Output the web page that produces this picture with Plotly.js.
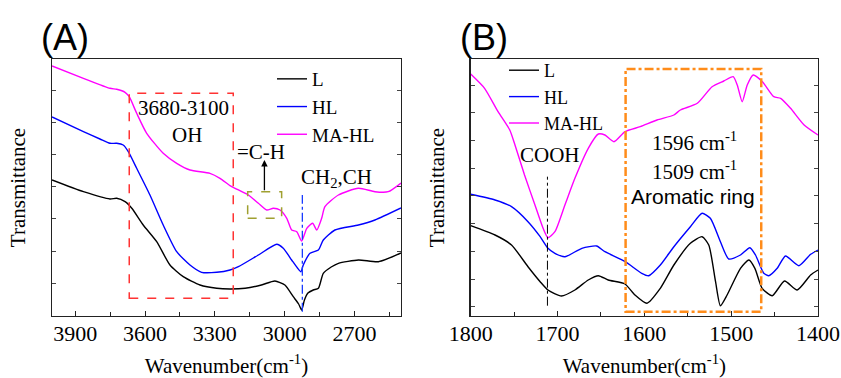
<!DOCTYPE html>
<html>
<head>
<meta charset="utf-8">
<script src="https://cdn.plot.ly/plotly-3.0.1.min.js"></script>
<style>html,body{margin:0;padding:0;background:#fff;}#chart{width:841px;height:378px;}</style>
</head>
<body>
<div id="chart"></div>
<script>
// ---------- Panel A (4000-2500 cm-1) ----------
const aWnL = [4000,3865,3751,3722,3686,3657,3608,3550,3493,3436,3364,3292,3235,3170,3100,3042,2999,2963,2940,2927,2915,2900,2877,2855,2834,2800,2769,2683,2597,2500];
const aL   = [136,124.3,117,117.7,114.3,107.7,91,74.3,51,39.3,31,27.7,27,27.7,31,35,31,19.3,12,6,16,23,26,27.7,42.7,49,52.7,56,54.3,63];

const aWnHL = [4000,3865,3794,3751,3722,3694,3672,3636,3579,3522,3464,3407,3357,3292,3235,3199,3113,3034,3006,2970,2945,2930,2920,2891,2855,2834,2784,2683,2612,2500];
const aHL   = [199,184.3,177,172.7,172.7,171,164.3,147.7,121,91,64.3,51,43.7,43.7,46,49.3,61,71.7,67.7,56,48,44.3,51,62.7,66,76,86,91,96,108];

const aWnMA = [4000,3865,3751,3722,3686,3668,3636,3593,3522,3464,3407,3321,3278,3235,3213,3156,3113,3077,3049,3020,2991,2970,2948,2927,2905,2880,2862,2841,2827,2769,2683,2612,2555,2500];
const aMA   = [250,237.7,227.7,226.7,223.7,219.3,202.7,182.7,162.7,152.7,146,142.7,137.7,130.3,127.7,121,112.7,106,107.7,106,97.7,86,84.3,75,87.7,92.7,86,97.7,109.3,121,127.7,124.3,124.3,133];

// ---------- Panel B (1800-1400 cm-1) ----------
const bWnL = [1800,1772,1753,1734,1720,1711,1695.5,1680,1664.6,1653,1641.6,1622.3,1610.8,1597,1581.6,1566,1547,1533.5,1525.8,1518,1512.4,1504.7,1489.3,1479.6,1472.7,1464.3,1452.7,1438.5,1424,1408.5,1400];
const bL   = [90.3,81,71,49.3,34.3,26,20,26,36,40.3,36,32,21,12.7,27.7,51,72.7,79.3,71,34.3,10.3,21,47.7,56,47.7,27.7,20.3,35,26,41,46];

const bWnHL = [1800,1772,1753,1734,1720,1711,1703,1691.5,1672,1655,1645.4,1622,1603,1595,1581.6,1566,1547,1533.5,1524,1512.4,1502.8,1489.3,1478.5,1472,1462.4,1456.6,1447,1437.4,1422,1408.5,1400];
const bHL   = [121.7,116,109.3,94.3,79.3,67.7,62.7,59.3,67.7,70,64.3,54.3,42.7,40.3,51,69.3,89.3,102.7,97.7,74.3,57,61,68.3,61,42.7,40.3,47.7,60,50.3,61.7,66];

const bWnMA = [1800,1784,1768.5,1755,1749,1738,1726,1716.6,1711,1703,1691.5,1680,1664.6,1653,1645.4,1635,1622.3,1604.7,1585.4,1566,1558.5,1539,1522,1508.5,1497.7,1493,1487.3,1481.5,1474.6,1464,1450.9,1443,1431.6,1416,1400];
const bMA   = [242,227.7,204.3,186,171,141,111,87.7,78.3,84.3,111,137.7,167.7,182,181,174.3,184.3,189.3,196,201,206,212.7,229.3,235,239.3,231,214.3,231,241,234.3,219.3,217.7,207.7,191,181];

const seriesNames = ['L','HL','MA-HL'];
const seriesColors = ['#000000','#0000ff','#ff00ff'];

const SERIF = 'Liberation Serif';
const SANS = 'Liberation Sans';
const font = (fam, size) => ({family: fam, size: size, color: '#000'});

function tr(x, y, i, xa, ya, lg) {
  return {x: x, y: y, type: 'scatter', mode: 'lines', name: seriesNames[i],
    line: {color: seriesColors[i], width: 1.4, shape: 'spline', smoothing: 0.6},
    xaxis: xa, yaxis: ya, legend: lg};
}

const data = [
  tr(aWnL, aL, 0, 'x', 'y', 'legend'),
  tr(aWnHL, aHL, 1, 'x', 'y', 'legend'),
  tr(aWnMA, aMA, 2, 'x', 'y', 'legend'),
  tr(bWnL, bL, 0, 'x2', 'y2', 'legend2'),
  tr(bWnHL, bHL, 1, 'x2', 'y2', 'legend2'),
  tr(bWnMA, bMA, 2, 'x2', 'y2', 'legend2')
];

const W = 841, H = 378, mL = 52, mR = 23, mT = 59, mB = 62;
const pw = W - mL - mR;
const dA = [0, (401 - mL) / pw];
const dB = [(470.7 - mL) / pw, 1];

function xax(dom, range, dt, mdt, anchor) {
  return {domain: dom, range: range, anchor: anchor, showgrid: false, zeroline: false,
    showline: true, linecolor: '#222', linewidth: 1.3, mirror: true,
    ticks: 'inside', ticklen: 5, tickcolor: '#222', tickwidth: 1, tick0: 0, dtick: dt,
    minor: {dtick: mdt, tick0: 0, ticks: 'inside', ticklen: 4, tickcolor: '#222', showgrid: false},
    tickfont: font(SERIF, 22), ticklabelstandoff: -3,
    title: {text: 'Wavenumber(cm<sup>-1</sup>)', font: font(SERIF, 21), standoff: 16},
    automargin: false};
}
function yax(anchor, t0, dt) {
  return {anchor: anchor, domain: [0, 1], range: [0, 257], showgrid: false, zeroline: false,
    showline: true, linecolor: '#222', linewidth: 1.3, mirror: 'ticks',
    ticks: 'inside', ticklen: 4, tickcolor: '#444', tick0: t0, dtick: dt,
    showticklabels: false,
    title: {text: 'Transmittance', font: font(SERIF, 21), standoff: 19},
    automargin: false};
}

const ann = (x, y, text, xr, yr, f) => ({x: x, y: y, xref: xr, yref: yr, text: text,
  showarrow: false, font: f, xanchor: 'center', yanchor: 'middle'});

const layout = {
  width: W, height: H,
  font: font(SERIF, 20),
  margin: {l: mL, r: mR, t: mT, b: mB},
  paper_bgcolor: '#fff', plot_bgcolor: '#fff',
  xaxis: xax(dA, [4000, 2500], 300, 150, 'y'),
  yaxis: yax('x', 0.5, 32.2),
  xaxis2: xax(dB, [1800, 1400], 100, 50, 'y2'),
  yaxis2: yax('x2', 9.3, 27.7),
  showlegend: true,
  legend: {x: (272 - mL) / pw, y: (316 - 60) / 257, xanchor: 'left', yanchor: 'top',
    bgcolor: 'rgba(0,0,0,0)', font: font(SERIF, 19), itemwidth: 30, tracegroupgap: 0},
  legend2: {x: (504 - mL) / pw, y: (316 - 52) / 257, xanchor: 'left', yanchor: 'top',
    bgcolor: 'rgba(0,0,0,0)', font: font(SERIF, 18), itemwidth: 30, tracegroupgap: 0},
  shapes: [
    {type: 'rect', xref: 'x', yref: 'y', x0: 3668, x1: 3221, y0: 17.7, y1: 222.7,
      line: {color: '#ff3333', width: 1.5, dash: 'dash'}},
    {type: 'rect', xref: 'x', yref: 'y', x0: 3159, x1: 3013, y0: 97.7, y1: 124.3,
      line: {color: '#a0a030', width: 1.5, dash: 'dash'}},
    {type: 'line', xref: 'x', yref: 'y', x0: 2924, x1: 2924, y0: 4.3, y1: 121,
      line: {color: '#1a3cff', width: 1.3, dash: 'dashdot'}},
    {type: 'line', xref: 'x2', yref: 'y2', x0: 1711.6, x1: 1711.6, y0: 10.3, y1: 139.3,
      line: {color: '#000', width: 1, dash: 'dashdot'}},
    {type: 'rect', xref: 'x2', yref: 'y2', x0: 1621.6, x1: 1465.4, y0: 4.3, y1: 247,
      line: {color: '#ff8c1a', width: 2.5, dash: 'dashdot'}}
  ],
  annotations: [
    ann((65 - mL) / pw, (316 - 37) / 257, '(A)', 'paper', 'paper', font(SANS, 36)),
    ann((484 - mL) / pw, (316 - 37) / 257, '(B)', 'paper', 'paper', font(SANS, 36)),
    ann(3433, 208, '3680-3100', 'x', 'y', font(SERIF, 21)),
    ann(3420, 181, 'OH', 'x', 'y', font(SERIF, 21)),
    ann(3102, 164, '=C-H', 'x', 'y', font(SERIF, 21)),
    ann(2779, 138, 'CH<sub>2</sub>,CH', 'x', 'y', font(SERIF, 21)),
    {x: 3087, y: 156, ax: 3087, ay: 124.3, xref: 'x', yref: 'y', axref: 'x', ayref: 'y', text: '',
      showarrow: true, arrowhead: 2, arrowsize: 1, arrowwidth: 1.3, arrowcolor: '#000'},
    ann(1542, 175, '1596 cm<sup>-1</sup>', 'x2', 'y2', font(SERIF, 21)),
    ann(1542, 146, '1509 cm<sup>-1</sup>', 'x2', 'y2', font(SERIF, 21)),
    ann(1544, 119.5, 'Aromatic ring', 'x2', 'y2', font(SANS, 21)),
    ann(1708.5, 161, 'COOH', 'x2', 'y2', font(SERIF, 21))
  ]
};

Plotly.newPlot('chart', data, layout, {displayModeBar: false, staticPlot: true});
</script>
</body>
</html>
